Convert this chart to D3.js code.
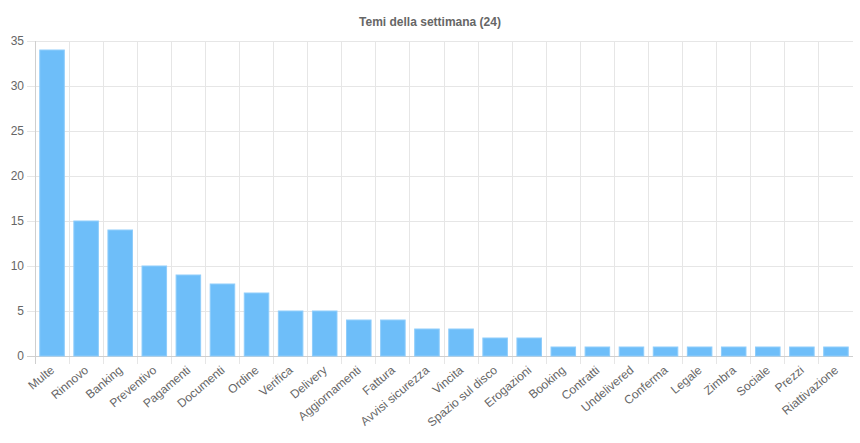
<!DOCTYPE html>
<html>
<head>
<meta charset="utf-8">
<script src="https://cdn.jsdelivr.net/npm/d3@7"></script>
<style>
  body { margin: 0; background: #fff; }
  svg { display: block; font-family: "Liberation Sans", Arial, Helvetica, sans-serif; }
  .grid line { stroke: #e6e6e6; shape-rendering: crispEdges; }
  .axis path { display: none; }
  .axis line { stroke: #e6e6e6; shape-rendering: crispEdges; }
  .axis text { fill: #666; font-size: 12px; }
</style>
</head>
<body>
<div id="chart"></div>
<script>
var title = "Temi della settimana (24)";

var categories = ["Multe", "Rinnovo", "Banking", "Preventivo", "Pagamenti", "Documenti",
  "Ordine", "Verifica", "Delivery", "Aggiornamenti", "Fattura", "Avvisi sicurezza",
  "Vincita", "Spazio sul disco", "Erogazioni", "Booking", "Contratti", "Undelivered",
  "Conferma", "Legale", "Zimbra", "Sociale", "Prezzi", "Riattivazione"];

var values = [34, 15, 14, 10, 9, 8, 7, 5, 5, 4, 4, 3, 3, 2, 2, 1, 1, 1, 1, 1, 1, 1, 1, 1];

var yTicks = [0, 5, 10, 15, 20, 25, 30, 35];

var margin = {top: 41, right: 7, bottom: 87, left: 35},
  fullWidth = 860,
  fullHeight = 443,
  width = fullWidth - margin.left - margin.right,
  height = fullHeight - margin.top - margin.bottom;

var svg = d3.select("#chart").append("svg")
  .attr("width", fullWidth)
  .attr("height", fullHeight);

svg.append("text")
  .attr("x", fullWidth / 2)
  .attr("y", 26)
  .attr("text-anchor", "middle")
  .style("font-size", "12px")
  .style("font-weight", "bold")
  .style("fill", "#666")
  .text(title);

var g = svg.append("g")
  .attr("transform", "translate(" + margin.left + "," + margin.top + ")");

var x = d3.scaleBand()
  .domain(categories)
  .range([0, width]);

var y = d3.scaleLinear()
  .domain([0, 35])
  .range([height, 0]);

// horizontal grid + y labels
var yAxis = d3.axisLeft(y)
  .tickValues(yTicks)
  .tickSize(-width - 8)
  .tickPadding(3);

g.append("g")
  .attr("class", "axis y")
  .attr("transform", "translate(-8,0)")
  .call(yAxis)
  .call(function(s) {
    s.selectAll(".tick line").attr("x1", 0).attr("x2", width + 8);
    s.selectAll(".tick text").attr("x", -3);
  });

// vertical grid between categories
var edges = categories.map(function(c) { return x(c); });

g.append("g")
  .attr("class", "grid")
  .selectAll("line")
  .data(edges)
  .enter().append("line")
  .attr("x1", function(d) { return d; })
  .attr("x2", function(d) { return d; })
  .attr("y1", 0)
  .attr("y2", height + 8)
  .style("stroke", function(d, i) { return i === 0 ? "#cfcfcf" : "#e6e6e6"; });

// zero line
g.append("line")
  .attr("x1", -8)
  .attr("x2", width)
  .attr("y1", y(0))
  .attr("y2", y(0))
  .style("stroke", "#cfcfcf")
  .style("shape-rendering", "crispEdges");

// bars
var barW = x.bandwidth() * 0.72;

g.selectAll(".bar")
  .data(values)
  .enter().append("rect")
  .attr("class", "bar")
  .attr("x", function(d, i) { return x(categories[i]) + (x.bandwidth() - barW) / 2; })
  .attr("y", function(d) { return y(d); })
  .attr("width", barW)
  .attr("height", function(d) { return y(0) - y(d); })
  .style("fill", "#6ebef9")
  .style("stroke", "#8fcdfb")
  .style("stroke-width", 1);

// x labels
var xAxis = d3.axisBottom(x).tickSize(0).tickPadding(0);

g.append("g")
  .attr("class", "axis x")
  .attr("transform", "translate(0," + height + ")")
  .call(xAxis)
  .selectAll("text")
  .attr("dy", null)
  .attr("y", 0)
  .attr("transform", "translate(1,13) rotate(-40)")
  .style("text-anchor", "end")
  .attr("dominant-baseline", "middle");
</script>
</body>
</html>
